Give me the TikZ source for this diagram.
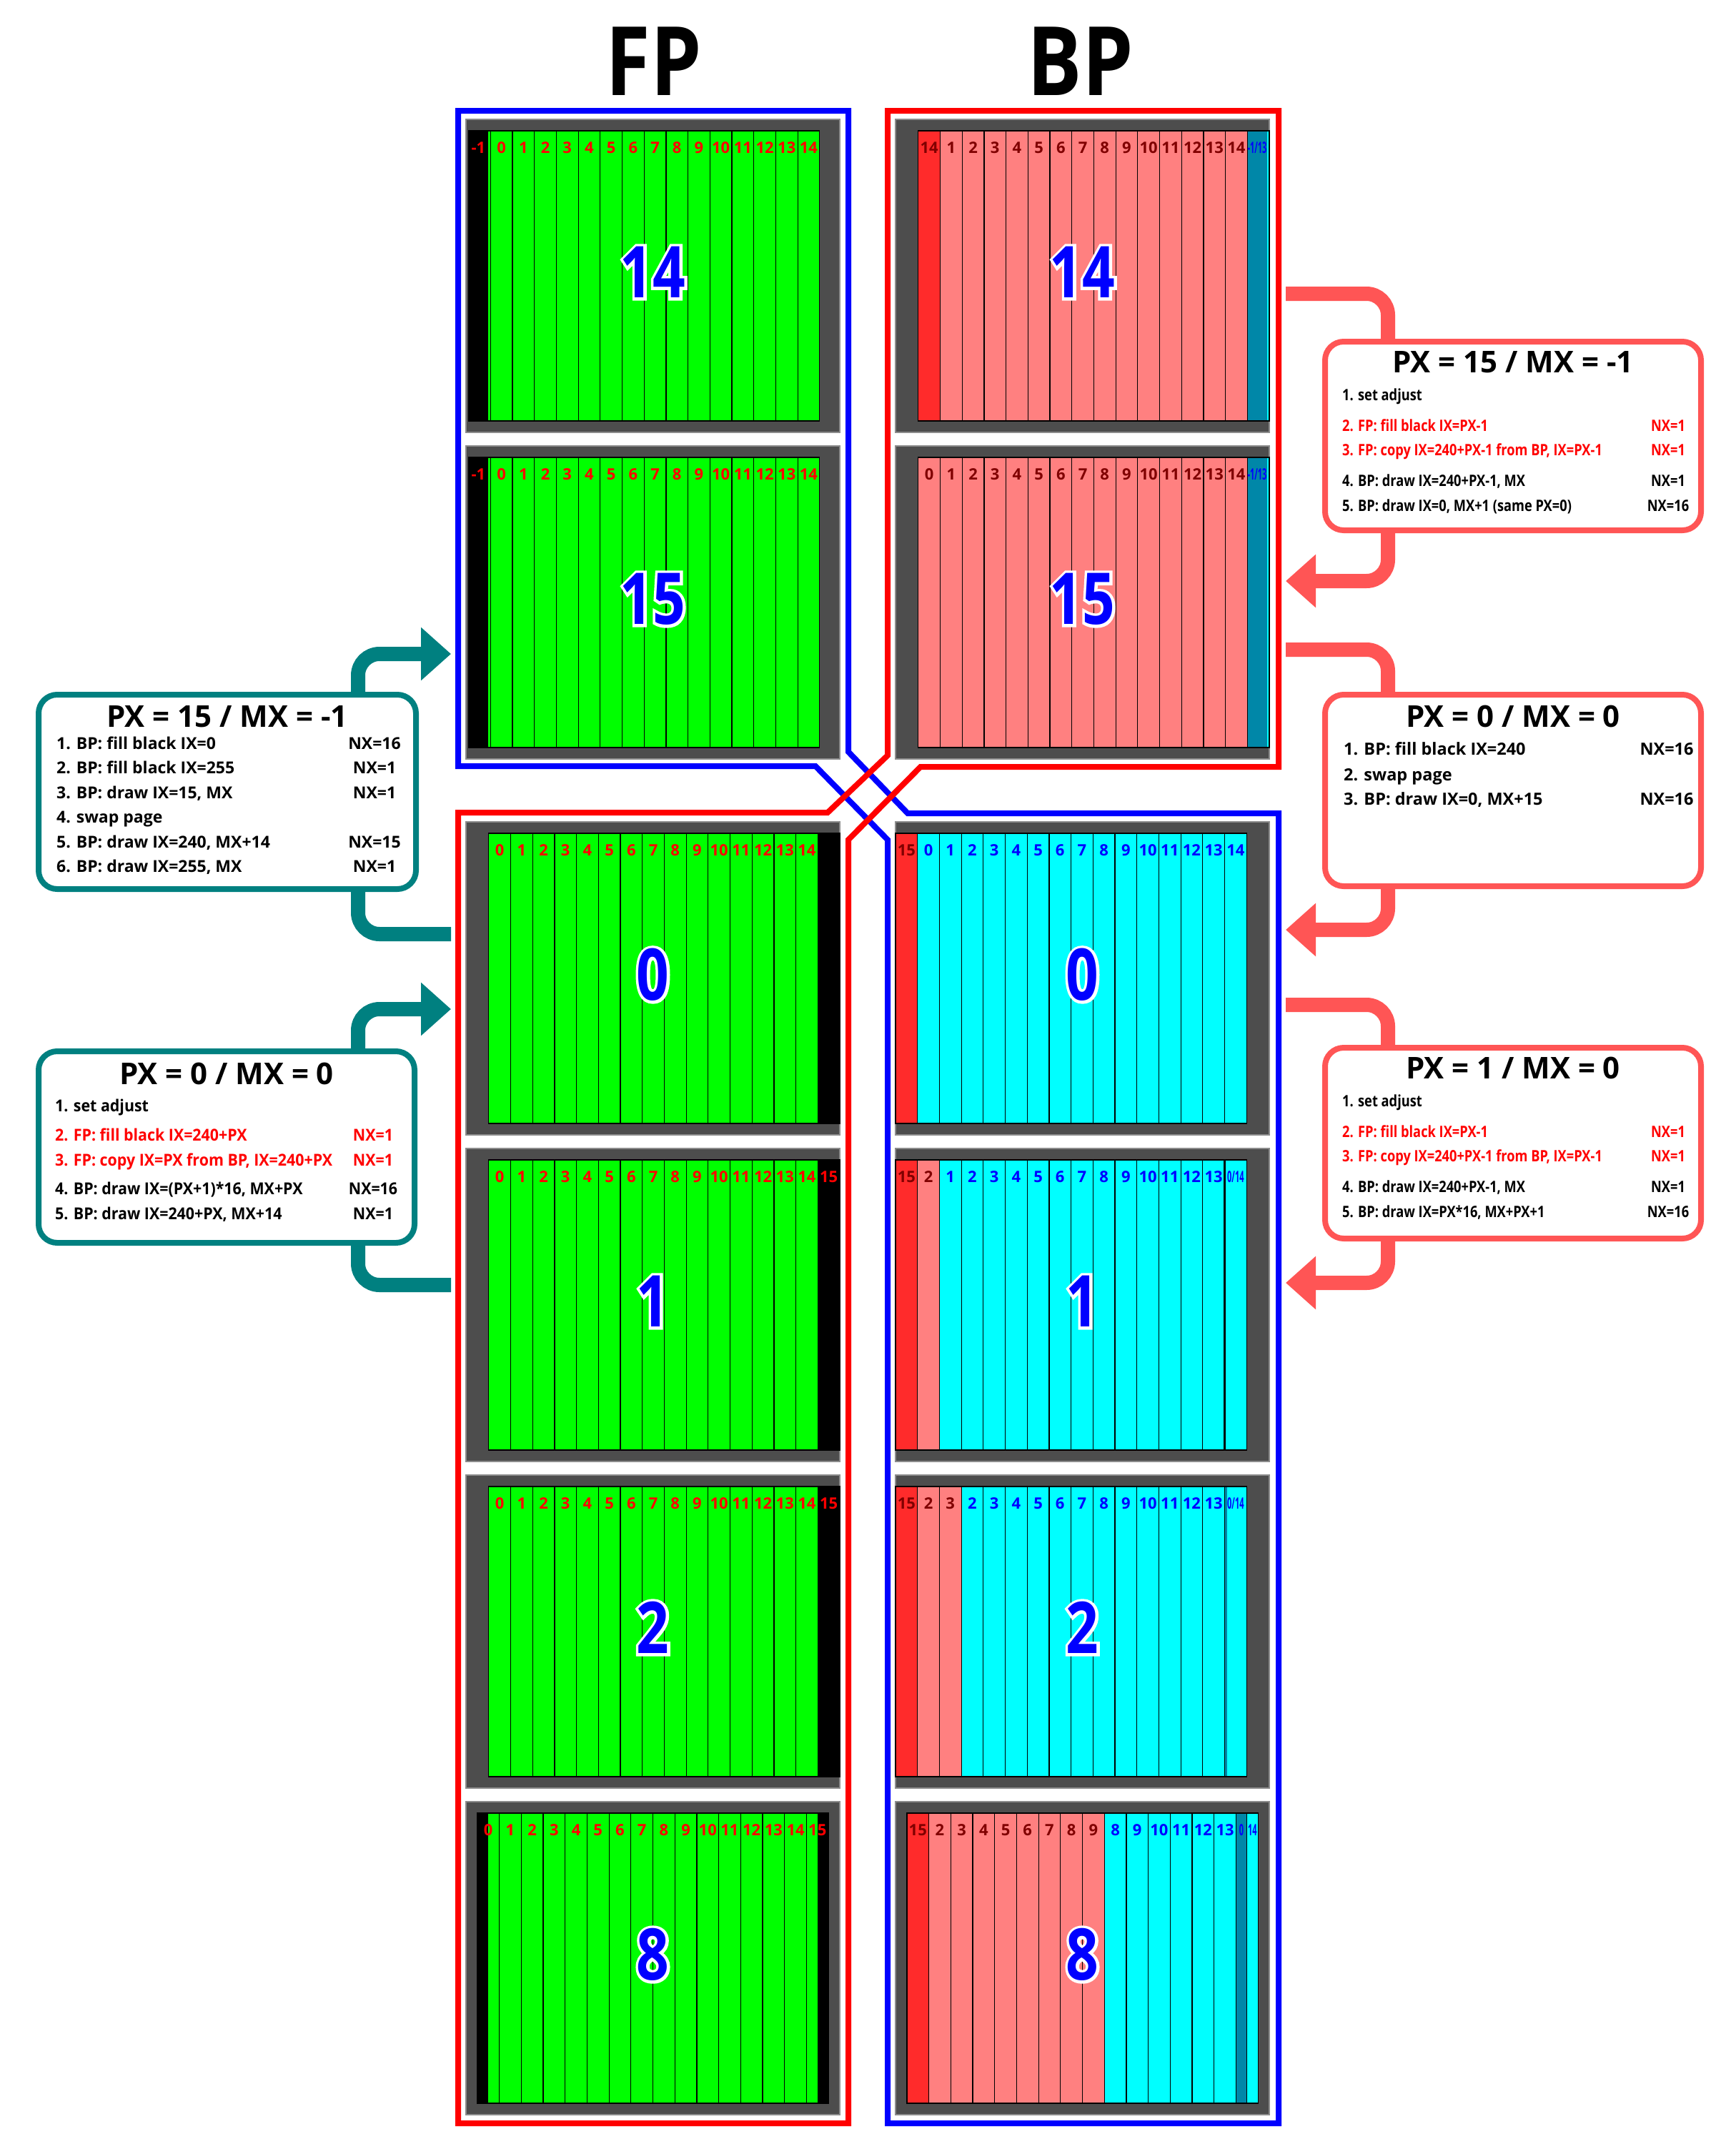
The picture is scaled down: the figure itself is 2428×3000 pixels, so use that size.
\documentclass[tikz,border=0pt]{standalone}
\usepackage{fontspec}
\usepackage{graphicx}
\setmainfont{Open Sans}
\newfontfamily\lblf{Open Sans}
\newfontfamily\cndf{Open Sans}[FakeStretch=0.5]
\newfontfamily\lboxf{Open Sans}[FakeStretch=0.93]
\newfontfamily\wboxf{Open Sans}
\newfontfamily\rboxf{Open Sans}[FakeStretch=0.83]
\newfontfamily\bigf{Open Sans}[FakeStretch=0.8]
\newfontfamily\bigow{Open Sans}[FakeStretch=0.8,FakeBold=8]
\newfontfamily\hdf{Open Sans}[FakeStretch=0.85]
\usetikzlibrary{arrows.meta,calc}

\definecolor{fpg}{HTML}{00FF00}
\definecolor{bppink}{HTML}{FF8080}
\definecolor{bpred}{HTML}{FF2B2B}
\definecolor{bpteal}{HTML}{0087A8}
\definecolor{bpcyan}{HTML}{00FFFF}
\definecolor{dred}{HTML}{800000}
\definecolor{pgray}{HTML}{4D4D4D}
\definecolor{pedge}{HTML}{8C8C8C}
\definecolor{tealc}{HTML}{008080}
\definecolor{redc}{HTML}{FF5555}
\definecolor{numblue}{HTML}{0000FF}

\newcount\lblc
\def\cw{30.7}
\def\sh{406}

\newcommand\cbox[4]{\filldraw[fill=#3,draw=black,line width=1.2pt] ({#1},{#2}) rectangle ++({#4},\sh);}
\newcommand\clab[4]{\global\advance\lblc by 1\relax
  \node[lab,text=#3] (lab\the\lblc) at ({#1},{#2}) {#4};}
\newcommand\ccol[5]{\cbox{#1}{#2}{#3}{\cw}\clab{#1+\cw/2}{#2+24}{#4}{#5}}
\newcommand\mkpanel[3]{\node[panel] (#1) at ({#2+261.5},{#3+219}) {};}
\newcommand\bignum[2]{%
  \node[bign,font=\bigow\bfseries\fontsize{100}{100}\selectfont,text=white] (#1w) at ([yshift=5pt]#1.center) {#2};
  \node[bign,text=numblue] (#1n) at ([yshift=5pt]#1.center) {#2};}

\begin{document}
\begin{tikzpicture}[x=1pt,y=-1pt,
  panel/.style={fill=pgray,draw=pedge,line width=1.5pt,minimum width=523pt,minimum height=438pt,inner sep=0pt,outer sep=0pt},
  lab/.style={font=\lblf\bfseries\fontsize{22}{22}\selectfont,inner sep=0pt,text height=15.7pt,text depth=0pt,anchor=center},
  bign/.style={font=\bigf\bfseries\fontsize{100}{100}\selectfont,inner sep=0pt,text height=71.4pt,text depth=0pt,anchor=center},
  hd/.style={font=\hdf\bfseries\fontsize{134}{134}\selectfont,inner sep=0pt,text height=95.7pt,text depth=0pt,anchor=center},
  frame/.style={line width=8pt},
  tconn/.style={draw=tealc,line width=20pt,rounded corners=30pt},
  rconn/.style={draw=redc,line width=20pt,rounded corners=30pt},
  tip/.style={-{Triangle[length=42pt,width=72pt]}},
  tbox/.style={draw=tealc,line width=8pt,rounded corners=26pt,fill=white,inner sep=0pt},
  rbox/.style={draw=redc,line width=8pt,rounded corners=26pt,fill=white,inner sep=0pt},
  bt/.style={font=\bfseries\fontsize{42}{42}\selectfont,inner sep=0pt,anchor=base},
  lt/.style={font=\lboxf\bfseries\fontsize{23}{23}\selectfont,inner sep=0pt,anchor=base west},
  ln/.style={font=\lboxf\bfseries\fontsize{23}{23}\selectfont,inner sep=0pt,anchor=base},
  wt/.style={font=\wboxf\bfseries\fontsize{23}{23}\selectfont,inner sep=0pt,anchor=base west},
  wn/.style={font=\wboxf\bfseries\fontsize{23}{23}\selectfont,inner sep=0pt,anchor=base},
  vt/.style={font=\wboxf\bfseries\fontsize{23.5}{23.5}\selectfont,inner sep=0pt,anchor=base west},
  vn/.style={font=\wboxf\bfseries\fontsize{23.5}{23.5}\selectfont,inner sep=0pt,anchor=base},
  rt/.style={font=\rboxf\bfseries\fontsize{22}{22}\selectfont,inner sep=0pt,anchor=base west},
  rn/.style={font=\rboxf\bfseries\fontsize{22}{22}\selectfont,inner sep=0pt,anchor=base}]

\fill[white] (0,0) rectangle (2428,3000);
\useasboundingbox (0,0) rectangle (2428,3000);

% titles
\node[hd] (tfp) at (915,86) {FP};
\node[hd] (tbp) at (1512,86) {BP};

% ---------------- FP panels ----------------
% FP 14
\mkpanel{fp14}{652}{167}
\fill[black] (655.6,183) rectangle ++(27.5,\sh);
\fill[fpg] (683.1,183) rectangle ++(3.2,\sh);
\draw[black,line width=1.2pt] (655.6,183) rectangle ++(\cw,\sh);
\clab{669.4}{207}{red}{-1}
\foreach \i in {0,...,14} {\ccol{655.6+(\i+1)*\cw}{183}{fpg}{red}{\i}}
\bignum{fp14}{14}
% FP 15
\mkpanel{fp15}{652}{624}
\fill[black] (655.6,640) rectangle ++(27.5,\sh);
\fill[fpg] (683.1,640) rectangle ++(3.2,\sh);
\draw[black,line width=1.2pt] (655.6,640) rectangle ++(\cw,\sh);
\clab{669.4}{664}{red}{-1}
\foreach \i in {0,...,14} {\ccol{655.6+(\i+1)*\cw}{640}{fpg}{red}{\i}}
\bignum{fp15}{15}
% FP 0
\mkpanel{fp0}{652}{1150}
\foreach \i in {0,...,14} {\ccol{683.8+\i*\cw}{1166}{fpg}{red}{\i}}
\cbox{683.8+15*\cw}{1166}{black}{\cw}
\bignum{fp0}{0}
% FP 1
\mkpanel{fp1}{652}{1607}
\foreach \i in {0,...,14} {\ccol{683.8+\i*\cw}{1623}{fpg}{red}{\i}}
\ccol{683.8+15*\cw}{1623}{black}{red}{15}
\bignum{fp1}{1}
% FP 2
\mkpanel{fp2}{652}{2064}
\foreach \i in {0,...,14} {\ccol{683.8+\i*\cw}{2080}{fpg}{red}{\i}}
\ccol{683.8+15*\cw}{2080}{black}{red}{15}
\bignum{fp2}{2}
% FP 8
\mkpanel{fp8}{652}{2521}
\fill[black] (667.9,2537) rectangle ++(15.35,\sh);
\fill[fpg] (683.25,2537) rectangle ++(15.35,\sh);
\draw[black,line width=1.2pt] (667.9,2537) rectangle ++(\cw,\sh);
\clab{683.25}{2561}{red}{0}
\foreach \i in {1,...,14} {\ccol{667.9+\i*\cw}{2537}{fpg}{red}{\i}}
\fill[fpg] (1128.4,2537) rectangle ++(15.35,\sh);
\fill[black] (1143.75,2537) rectangle ++(15.35,\sh);
\draw[black,line width=1.2pt] (1128.4,2537) rectangle ++(\cw,\sh);
\clab{1143.75}{2561}{red}{15}
\bignum{fp8}{8}

% ---------------- BP panels ----------------
% BP 14
\mkpanel{bp14}{1253}{167}
\ccol{1284.8}{183}{bpred}{dred}{14}
\foreach \i in {1,...,14} {\ccol{1284.8+\i*\cw}{183}{bppink}{dred}{\i}}
\fill[bpteal] (1745.3,183) rectangle ++(27.5,\sh);
\fill[bpcyan] (1772.8,183) rectangle ++(3.2,\sh);
\draw[black,line width=1.2pt] (1745.3,183) rectangle ++(\cw,\sh);
\clab{1759}{207}{numblue}{\cndf\bfseries -1/13}
\bignum{bp14}{14}
% BP 15
\mkpanel{bp15}{1253}{624}
\ccol{1284.8}{640}{bppink}{dred}{0}
\foreach \i in {1,...,14} {\ccol{1284.8+\i*\cw}{640}{bppink}{dred}{\i}}
\fill[bpteal] (1745.3,640) rectangle ++(27.5,\sh);
\fill[bpcyan] (1772.8,640) rectangle ++(3.2,\sh);
\draw[black,line width=1.2pt] (1745.3,640) rectangle ++(\cw,\sh);
\clab{1759}{664}{numblue}{\cndf\bfseries -1/13}
\bignum{bp15}{15}
% BP 0
\mkpanel{bp0}{1253}{1150}
\ccol{1253}{1166}{bpred}{dred}{15}
\foreach \i in {1,...,15} {\pgfmathtruncatemacro\lb{\i-1}\ccol{1253+\i*\cw}{1166}{bpcyan}{numblue}{\lb}}
\bignum{bp0}{0}
% BP 1
\mkpanel{bp1}{1253}{1607}
\ccol{1253}{1623}{bpred}{dred}{15}
\ccol{1253+\cw}{1623}{bppink}{dred}{2}
\foreach \i in {2,...,14} {\pgfmathtruncatemacro\lb{\i-1}\ccol{1253+\i*\cw}{1623}{bpcyan}{numblue}{\lb}}
\ccol{1253+15*\cw}{1623}{bpcyan}{numblue}{\cndf\bfseries 0/14}
\draw[black,line width=2.5pt] ({1253+15*\cw},1623) -- ++(0,\sh);
\bignum{bp1}{1}
% BP 2
\mkpanel{bp2}{1253}{2064}
\ccol{1253}{2080}{bpred}{dred}{15}
\ccol{1253+\cw}{2080}{bppink}{dred}{2}
\ccol{1253+2*\cw}{2080}{bppink}{dred}{3}
\foreach \i in {3,...,14} {\pgfmathtruncatemacro\lb{\i-1}\ccol{1253+\i*\cw}{2080}{bpcyan}{numblue}{\lb}}
\fill[bpcyan] ({1253+15*\cw},2080) rectangle ++(\cw,\sh);
\fill[bpteal] ({1253+15*\cw},2080) rectangle ++(3.5,\sh);
\draw[black,line width=1.2pt] ({1253+15*\cw},2080) rectangle ++(\cw,\sh);
\clab{1253+15.5*\cw}{2104}{numblue}{\cndf\bfseries 0/14}
\bignum{bp2}{2}
% BP 8
\mkpanel{bp8}{1253}{2521}
\ccol{1268.9}{2537}{bpred}{dred}{15}
\foreach \i in {1,...,8} {\pgfmathtruncatemacro\lb{\i+1}\ccol{1268.9+\i*\cw}{2537}{bppink}{dred}{\lb}}
\foreach \i in {9,...,14} {\pgfmathtruncatemacro\lb{\i-1}\ccol{1268.9+\i*\cw}{2537}{bpcyan}{numblue}{\lb}}
\filldraw[fill=bpteal,draw=black,line width=1.2pt] (1729.4,2537) rectangle ++(15.35,\sh);
\filldraw[fill=bpcyan,draw=black,line width=1.2pt] (1744.75,2537) rectangle ++(15.35,\sh);
\clab{1737.1}{2561}{numblue}{\cndf\bfseries 0}
\clab{1752.4}{2561}{numblue}{\cndf\bfseries 14}
\bignum{bp8}{8}

% ---------------- frames ----------------
\draw[frame,blue] (641,155) -- (1187,155) -- (1187,1052) -- (1270,1138) -- (1789,1138)
  -- (1789,2971) -- (1242,2971) -- (1242,1175) -- (1141,1072) -- (641,1072) -- cycle;
\draw[frame,red] (1242,155) -- (1789,155) -- (1789,1073) -- (1288,1073) -- (1187,1175)
  -- (1187,2971) -- (641,2971) -- (641,1137) -- (1158,1137) -- (1242,1057) -- cycle;

% ---------------- connectors ----------------
\coordinate (tk) at (501,0);
\coordinate (rk) at (1942,0);
\coordinate (t1a) at (631,1307);
\coordinate (t1b) at (631,915);
\coordinate (t2a) at (631,1798);
\coordinate (t2b) at (631,1412);
\coordinate (r1a) at (1799,411);
\coordinate (r1b) at (1799,813);
\coordinate (r2a) at (1799,909);
\coordinate (r2b) at (1799,1301);
\coordinate (r3a) at (1799,1406);
\coordinate (r3b) at (1799,1795);
% box shapes (used as connector anchors, then redrawn on top)
\path (318,1108) node[minimum width=528pt,minimum height=272pt,inner sep=0pt] (lb1) {};
\path (317,1605) node[minimum width=526pt,minimum height=268pt,inner sep=0pt] (lb2) {};
\path (2117,610) node[minimum width=526pt,minimum height=264pt,inner sep=0pt] (rb1) {};
\path (2117,1106) node[minimum width=526pt,minimum height=268pt,inner sep=0pt] (rb2) {};
\path (2117,1599.5) node[minimum width=526pt,minimum height=267pt,inner sep=0pt] (rb3) {};
\draw[tconn] (t1a) -| (tk |- lb1.south);
\draw[tconn,tip] (tk |- lb1.north) |- (t1b);
\draw[tconn] (t2a) -| (tk |- lb2.south);
\draw[tconn,tip] (tk |- lb2.north) |- (t2b);
\draw[rconn] (r1a) -| (rk |- rb1.north);
\draw[rconn,tip] (rk |- rb1.south) |- (r1b);
\draw[rconn] (r2a) -| (rk |- rb2.north);
\draw[rconn,tip] (rk |- rb2.south) |- (r2b);
\draw[rconn] (r3a) -| (rk |- rb3.north);
\draw[rconn,tip] (rk |- rb3.south) |- (r3b);
\node[tbox,minimum width=528pt,minimum height=272pt] (lb1f) at (lb1) {};
\node[tbox,minimum width=526pt,minimum height=268pt] (lb2f) at (lb2) {};
\node[rbox,minimum width=526pt,minimum height=264pt] (rb1f) at (rb1) {};
\node[rbox,minimum width=526pt,minimum height=268pt] (rb2f) at (rb2) {};
\node[rbox,minimum width=526pt,minimum height=267pt] (rb3f) at (rb3) {};

% ---------------- box texts ----------------
% left box 1
\node[bt] (lb1t) at (318,1017) {PX = 15 / MX = -1};
\node[wt] (lb1l1) at (79,1048) {1. BP: fill black IX=0};
\node[wn] (lb1n1) at (524,1048) {NX=16};
\node[wt] (lb1l2) at (79,1082) {2. BP: fill black IX=255};
\node[wn] (lb1n2) at (524,1082) {NX=1};
\node[wt] (lb1l3) at (79,1117) {3. BP: draw IX=15, MX};
\node[wn] (lb1n3) at (524,1117) {NX=1};
\node[wt] (lb1l4) at (79,1151) {4. swap page};
\node[wt] (lb1l5) at (79,1186) {5. BP: draw IX=240, MX+14};
\node[wn] (lb1n5) at (524,1186) {NX=15};
\node[wt] (lb1l6) at (79,1220) {6. BP: draw IX=255, MX};
\node[wn] (lb1n6) at (524,1220) {NX=1};
% left box 2
\node[bt] (lb2t) at (317,1517) {PX = 0 / MX = 0};
\node[lt] (lb2l1) at (77,1555) {1. set adjust};
\node[lt,text=red] (lb2l2) at (77,1596) {2. FP: fill black IX=240+PX};
\node[ln,text=red] (lb2n2) at (522,1596) {NX=1};
\node[lt,text=red] (lb2l3) at (77,1631) {3. FP: copy IX=PX from BP, IX=240+PX};
\node[ln,text=red] (lb2n3) at (522,1631) {NX=1};
\node[lt] (lb2l4) at (77,1671) {4. BP: draw IX=(PX+1)*16, MX+PX};
\node[ln] (lb2n4) at (522,1671) {NX=16};
\node[lt] (lb2l5) at (77,1706) {5. BP: draw IX=240+PX, MX+14};
\node[ln] (lb2n5) at (522,1706) {NX=1};
% right box 1
\node[bt] (rb1t) at (2117,521) {PX = 15 / MX = -1};
\node[rt] (rb1l1) at (1878,560) {1. set adjust};
\node[rt,text=red] (rb1l2) at (1878,603) {2. FP: fill black IX=PX-1};
\node[rn,text=red] (rb1n2) at (2334,603) {NX=1};
\node[rt,text=red] (rb1l3) at (1878,637) {3. FP: copy IX=240+PX-1 from BP, IX=PX-1};
\node[rn,text=red] (rb1n3) at (2334,637) {NX=1};
\node[rt] (rb1l4) at (1878,680) {4. BP: draw IX=240+PX-1, MX};
\node[rn] (rb1n4) at (2334,680) {NX=1};
\node[rt] (rb1l5) at (1878,715) {5. BP: draw IX=0, MX+1 (same PX=0)};
\node[rn] (rb1n5) at (2334,715) {NX=16};
% right box 2
\node[bt] (rb2t) at (2117,1017) {PX = 0 / MX = 0};
\node[vt] (rb2l1) at (1880,1056) {1. BP: fill black IX=240};
\node[vn] (rb2n1) at (2332,1056) {NX=16};
\node[vt] (rb2l2) at (1880,1092) {2. swap page};
\node[vt] (rb2l3) at (1880,1126) {3. BP: draw IX=0, MX+15};
\node[vn] (rb2n3) at (2332,1126) {NX=16};
% right box 3
\node[bt] (rb3t) at (2117,1509) {PX = 1 / MX = 0};
\node[rt] (rb3l1) at (1878,1548) {1. set adjust};
\node[rt,text=red] (rb3l2) at (1878,1591) {2. FP: fill black IX=PX-1};
\node[rn,text=red] (rb3n2) at (2334,1591) {NX=1};
\node[rt,text=red] (rb3l3) at (1878,1625) {3. FP: copy IX=240+PX-1 from BP, IX=PX-1};
\node[rn,text=red] (rb3n3) at (2334,1625) {NX=1};
\node[rt] (rb3l4) at (1878,1668) {4. BP: draw IX=240+PX-1, MX};
\node[rn] (rb3n4) at (2334,1668) {NX=1};
\node[rt] (rb3l5) at (1878,1703) {5. BP: draw IX=PX*16, MX+PX+1};
\node[rn] (rb3n5) at (2334,1703) {NX=16};
\end{tikzpicture}
\end{document}
